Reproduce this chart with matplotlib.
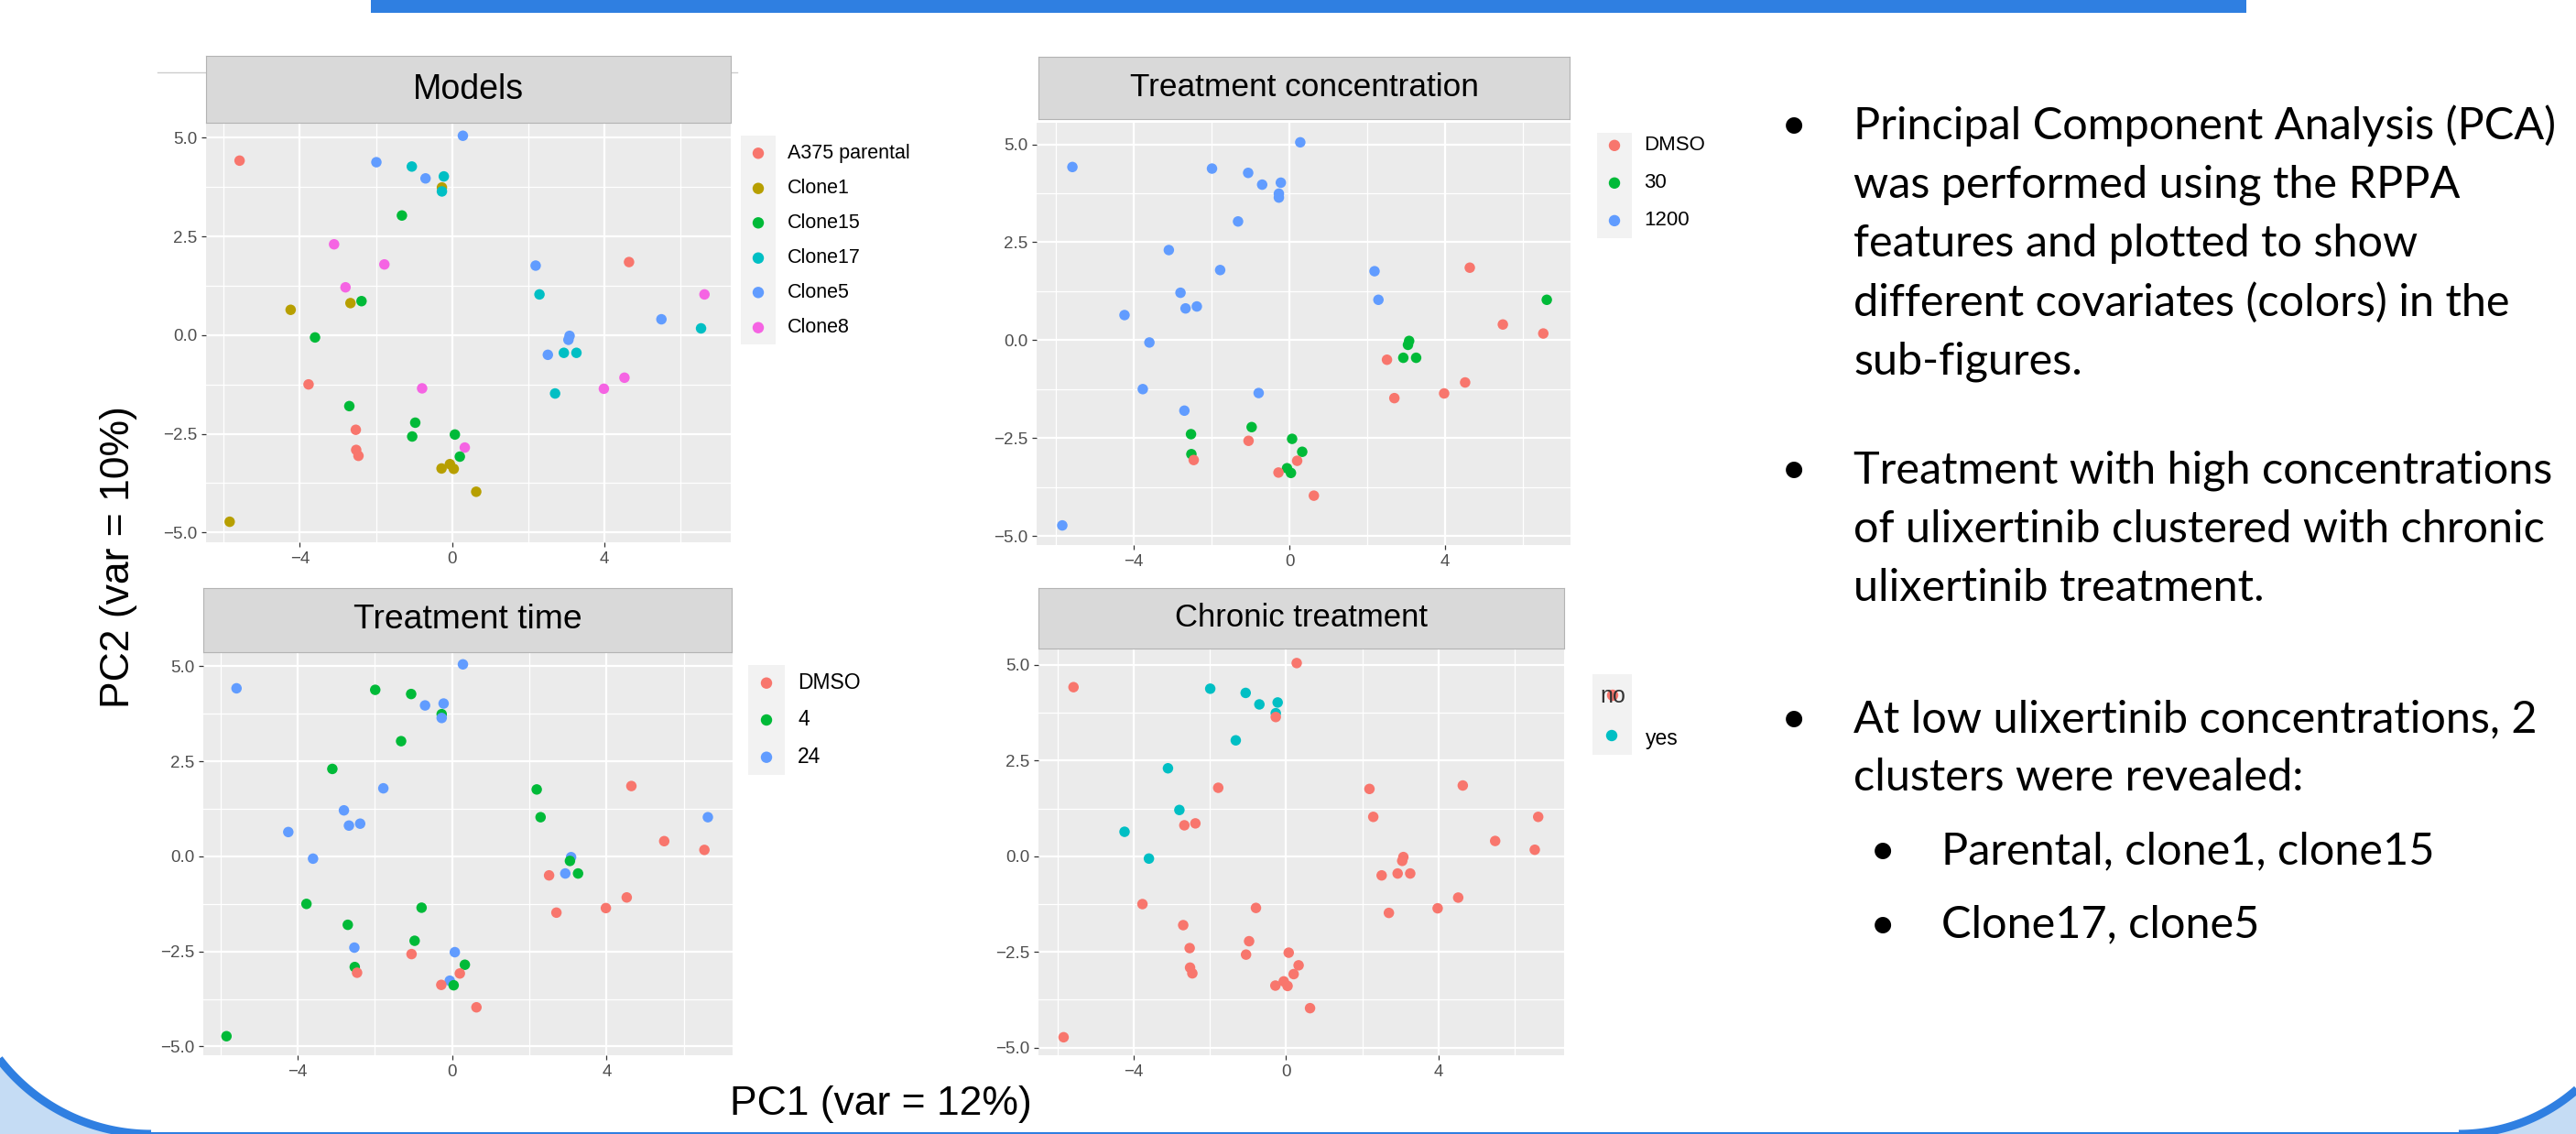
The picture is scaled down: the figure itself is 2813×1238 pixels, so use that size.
import matplotlib
matplotlib.use("Agg")
import matplotlib.pyplot as plt
import numpy as np
from matplotlib.patches import Rectangle, Polygon

# ---------------- data ----------------
pc1 = [-5.58, 0.28, -1.99, -1.06, -0.70, -0.22, -0.27, -0.27, -1.32, -3.10,
       -1.78, -2.80, -2.67, -2.38, -4.24, -3.60, -3.77, -2.70, -2.53, -2.52,
       -2.46, -0.79, -0.97, -1.05, 0.07, 0.33, 0.20, -0.06, -0.28, 0.04,
       0.63, -5.84, 2.19, 2.29, 4.64, 6.62, 5.49, 6.53, 3.08, 3.05,
       2.51, 2.93, 3.26, 2.70, 3.98, 4.52]
pc2 = [4.42, 5.05, 4.38, 4.27, 3.97, 4.02, 3.74, 3.64, 3.03, 2.30,
       1.79, 1.21, 0.81, 0.86, 0.64, -0.06, -1.25, -1.80, -2.40, -2.91,
       -3.06, -1.35, -2.22, -2.57, -2.52, -2.85, -3.08, -3.27, -3.38, -3.39,
       -3.97, -4.73, 1.76, 1.03, 1.85, 1.03, 0.40, 0.17, -0.02, -0.12,
       -0.50, -0.45, -0.45, -1.48, -1.36, -1.08]
model = ["A375 parental", "Clone5", "Clone5", "Clone17", "Clone5", "Clone17", "Clone1", "Clone17", "Clone15", "Clone8",
         "Clone8", "Clone8", "Clone1", "Clone15", "Clone1", "Clone15", "A375 parental", "Clone15", "A375 parental", "A375 parental",
         "A375 parental", "Clone8", "Clone15", "Clone15", "Clone15", "Clone8", "Clone15", "Clone1", "Clone1", "Clone1",
         "Clone1", "Clone1", "Clone5", "Clone17", "A375 parental", "Clone8", "Clone5", "Clone17", "Clone5", "Clone5",
         "Clone5", "Clone17", "Clone17", "Clone17", "Clone8", "Clone8"]
conc = ["1200", "1200", "1200", "1200", "1200", "1200", "1200", "1200", "1200", "1200",
        "1200", "1200", "1200", "1200", "1200", "1200", "1200", "1200", "30", "30",
        "DMSO", "1200", "30", "DMSO", "30", "30", "DMSO", "30", "DMSO", "30",
        "DMSO", "1200", "1200", "1200", "DMSO", "30", "DMSO", "DMSO", "30", "30",
        "DMSO", "30", "30", "DMSO", "DMSO", "DMSO"]
ttime = ["24", "24", "4", "4", "24", "24", "4", "24", "4", "4",
         "24", "24", "24", "24", "24", "24", "4", "4", "24", "4",
         "DMSO", "4", "4", "DMSO", "24", "4", "DMSO", "24", "DMSO", "4",
         "DMSO", "4", "4", "4", "DMSO", "24", "DMSO", "DMSO", "24", "4",
         "DMSO", "24", "4", "DMSO", "DMSO", "DMSO"]
chronic = ["no", "no", "yes", "yes", "yes", "yes", "yes", "no", "yes", "yes",
           "no", "yes", "no", "no", "yes", "yes", "no", "no", "no", "no",
           "no", "no", "no", "no", "no", "no", "no", "no", "no", "no",
           "no", "no", "no", "no", "no", "no", "no", "no", "no", "no",
           "no", "no", "no", "no", "no", "no"]

model_levels = ["A375 parental", "Clone1", "Clone15", "Clone17", "Clone5", "Clone8"]
model_colors = ["#F8766D", "#B79F00", "#00BA38", "#00BFC4", "#619CFF", "#F564E3"]
conc_levels = ["DMSO", "30", "1200"]
time_levels = ["DMSO", "4", "24"]
three_colors = ["#F8766D", "#00BA38", "#619CFF"]
chronic_levels = ["no", "yes"]
two_colors = ["#F8766D", "#00BFC4"]

panel_titles = ["Models", "Treatment concentration", "Treatment time", "Chronic treatment"]
x_ticks = [-4, 0, 4]
y_ticks = [-5.0, -2.5, 0.0, 2.5, 5.0]
x_label = "PC1 (var = 12%)"
y_label = "PC2 (var = 10%)"

bullet1 = ["Principal Component Analysis (PCA)", "was performed using the RPPA",
           "features and plotted to show", "different covariates (colors) in the",
           "sub-figures."]
bullet2 = ["Treatment with high concentrations", "of ulixertinib clustered with chronic",
           "ulixertinib treatment."]
bullet3 = ["At low ulixertinib concentrations, 2", "clusters were revealed:"]
sub_bullets = ["Parental, clone1, clone15", "Clone17, clone5"]

# ---------------- layout ----------------
W, H, DPI = 2813, 1238, 100
plt.rcParams["font.family"] = ["Liberation Sans", "DejaVu Sans"]

fig = plt.figure(figsize=(W / DPI, H / DPI), dpi=DPI)
fig.patch.set_facecolor("white")


def frac(x0, y0, x1, y1):
    return [x0 / W, 1 - y1 / H, (x1 - x0) / W, (y1 - y0) / H]


bg = fig.add_axes([0, 0, 1, 1], zorder=0)
bg.set_xlim(0, W)
bg.set_ylim(H, 0)
bg.axis("off")
bg.patch.set_alpha(0)

# slide decorations
BLUE = "#2F7FE1"
LIGHT = "#C5DCF4"
bg.add_patch(Rectangle((405, 0), 2048, 14, color=BLUE, lw=0))


def corner(cx, cy, r, a0, a1, corner_pt):
    th = np.radians(np.linspace(a0, a1, 80))
    xs = cx + r * np.cos(th)
    ys = cy + r * np.sin(th)
    pts = np.column_stack([xs, ys]).tolist() + [corner_pt]
    bg.add_patch(Polygon(pts, closed=True, color=LIGHT, lw=0))
    bg.plot(xs, ys, color=BLUE, lw=6.5, solid_capstyle="butt")


corner(165, 1029, 209, 90, 150, [0, H])
corner(2685, 1043, 195, 90, 40, [W, H])
bg.plot([150, 2700], [1237, 1237], color=BLUE, lw=1.5)

# artifact line behind first strip
bg.plot([172, 805], [79, 79], color="#CCCCCC", lw=1.0)

panels = [
    dict(box=(225, 134, 798, 592), strip=(225, 61, 798, 134), xlim=(-6.46, 7.31), ylim=(-5.25, 5.38),
         var=model, levels=model_levels, colors=model_colors, tfs=27),
    dict(box=(1132, 134, 1715, 595), strip=(1134, 61.5, 1714, 129.5), xlim=(-6.5, 7.23), ylim=(-5.23, 5.55),
         var=conc, levels=conc_levels, colors=three_colors, tfs=25.4),
    dict(box=(222, 712, 800, 1152), strip=(222, 642, 799, 712), xlim=(-6.44, 7.26), ylim=(-5.23, 5.37),
         var=ttime, levels=time_levels, colors=three_colors, tfs=26.8),
    dict(box=(1134, 708, 1708, 1152), strip=(1134, 642, 1708, 708), xlim=(-6.5, 7.3), ylim=(-5.2, 5.43),
         var=chronic, levels=chronic_levels, colors=two_colors, tfs=25),
]

for p, title in zip(panels, panel_titles):
    ax = fig.add_axes(frac(*p["box"]), zorder=2)
    ax.set_facecolor("#EBEBEB")
    for s in ax.spines.values():
        s.set_visible(False)
    ax.set_xlim(*p["xlim"])
    ax.set_ylim(*p["ylim"])
    ax.set_xticks(x_ticks)
    ax.set_xticklabels(["\u2212%d" % abs(v) if v < 0 else "%d" % v for v in x_ticks])
    ax.set_yticks(y_ticks)
    ax.set_yticklabels([("\u2212%.1f" % abs(v)) if v < 0 else "%.1f" % v for v in y_ticks])
    ax.set_xticks([-6, -2, 2, 6], minor=True)
    ax.set_yticks([-3.75, -1.25, 1.25, 3.75], minor=True)
    ax.grid(which="major", color="white", lw=1.6)
    ax.grid(which="minor", color="white", lw=0.9)
    ax.set_axisbelow(True)
    ax.tick_params(which="major", length=3.5, width=0.9, color="#333333",
                   labelsize=13.5, labelcolor="#4D4D4D", pad=3.5)
    ax.tick_params(which="minor", length=0)
    cols = [p["colors"][p["levels"].index(v)] for v in p["var"]]
    ax.scatter(pc1, pc2, c=cols, s=68, linewidths=0, zorder=3)

    sx = fig.add_axes(frac(*p["strip"]), zorder=2)
    sx.set_facecolor("#D9D9D9")
    sx.set_xticks([])
    sx.set_yticks([])
    for s in sx.spines.values():
        s.set_color("#B3B3B3")
        s.set_linewidth(0.8)
    sx.text(0.5, 0.5, title, transform=sx.transAxes, ha="center", va="center",
            fontsize=p["tfs"], color="black")

# legends (drawn on background canvas in pixel coordinates)
LEG = [
    dict(bg=(809, 148, 847, 376), kx=828, ys=[167.3, 205.7, 243.3, 281.7, 319.3, 357.7], tx=860,
         levels=model_levels, colors=model_colors, fs=15.5),
    dict(bg=(1744, 145, 1782, 260), kx=1763, ys=[158.8, 199.8, 240.9], tx=1795,
         levels=conc_levels, colors=three_colors, fs=16),
    dict(bg=(817, 726, 857, 846), kx=837, ys=[745.7, 786, 826.7], tx=871,
         levels=time_levels, colors=three_colors, fs=16.5),
]
for L in LEG:
    x0, y0, x1, y1 = L["bg"]
    bg.add_patch(Rectangle((x0, y0), x1 - x0, y1 - y0, color="#F2F2F2", lw=0))
    bg.scatter([L["kx"]] * len(L["ys"]), L["ys"], c=L["colors"], s=80, linewidths=0, zorder=3)
    for y, lab in zip(L["ys"], L["levels"]):
        bg.text(L["tx"], y, lab, ha="left", va="center", fontsize=L["fs"], color="black")

# chronic legend (label "no" sits on its key)
bg.add_patch(Rectangle((1739, 736), 43, 88, color="#F2F2F2", lw=0))
bg.scatter([1761, 1760], [759, 803], c=two_colors, s=80, linewidths=0, zorder=3)
bg.text(1761, 760, chronic_levels[0], ha="center", va="center", fontsize=18, color="#333333", zorder=4)
bg.text(1797, 806, chronic_levels[1], ha="left", va="center", fontsize=16.5, color="black", zorder=4)

# axis titles
bg.text(130, 608, y_label, rotation=90, ha="center", va="center", fontsize=32, color="black")
bg.text(962, 1205, x_label, ha="center", va="center", fontsize=32, color="black")

# right-hand bullet text
TF = ["Lato", "DejaVu Sans"]
probe = bg.text(2024, 151.5, bullet1[0], fontfamily=TF, fontsize=34, va="baseline")
fig.canvas.draw()
wpx = probe.get_window_extent(fig.canvas.get_renderer()).width
fs = 34 * 770.0 / wpx
probe.remove()

base1 = [151.5, 215.8, 280.1, 344.4, 408.7]
base2 = [527.2, 591.5, 655.8]
base3 = [799.5, 862.7]
base_sub = [943.2, 1023.7]
for lines, bases in ((bullet1, base1), (bullet2, base2), (bullet3, base3)):
    bg.text(1959, bases[0], "\u2022", fontfamily=TF, fontsize=fs, ha="center", va="baseline", color="black")
    for t, b in zip(lines, bases):
        bg.text(2024, b, t, fontfamily=TF, fontsize=fs, ha="left", va="baseline", color="black")
for t, b in zip(sub_bullets, base_sub):
    bg.text(2056, b, "\u2022", fontfamily=TF, fontsize=fs, ha="center", va="baseline", color="black")
    bg.text(2120, b, t, fontfamily=TF, fontsize=fs, ha="left", va="baseline", color="black")

fig.savefig("out.png", dpi=DPI, facecolor="white")
